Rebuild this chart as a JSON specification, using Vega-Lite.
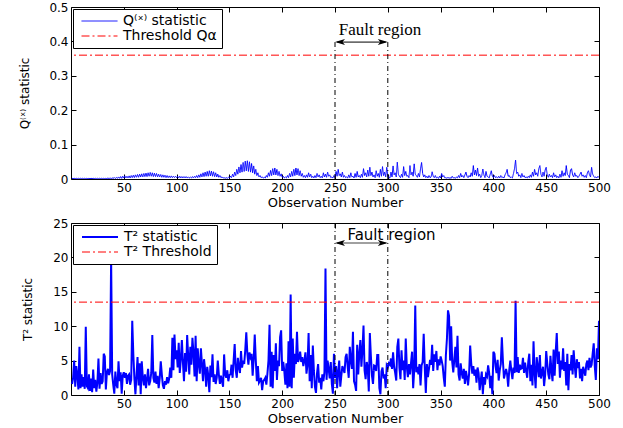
{
"$schema": "https://vega.github.io/schema/vega-lite/v6.json",
"padding": {"left": 17, "top": 0, "right": 5, "bottom": 3},
"bounds": "flush",
"spacing": 44,
"config": {
  "view": {"stroke": "black", "strokeWidth": 1},
  "font": "DejaVu Sans",
  "axis": {"grid": false, "domain": false, "tickColor": "black", "tickSize": -5, "labelPadding": 8, "labelFlush": false, "labelFont": "DejaVu Sans", "labelFontSize": 12, "labelColor": "black", "titleFont": "DejaVu Sans", "titleFontWeight": "normal", "titleColor": "black"},
  "legend": {"orient": "top-left", "offset": 2, "strokeColor": "black", "fillColor": "white", "padding": 5, "symbolType": "stroke", "symbolSize": 1296, "symbolOffset": 3, "clipHeight": 14, "rowPadding": 1, "labelFont": "DejaVu Sans", "labelFontSize": 14, "labelColor": "black", "labelOffset": 5}
},
"datasets": {"d": [
{"n":1,"q":0.002,"t":1.6},{"n":2,"q":0.001,"t":2.5},{"n":3,"q":0.002,"t":5},{"n":4,"q":0.001,"t":1.2},{"n":5,"q":0.002,"t":4.2},{"n":6,"q":0.001,"t":2.8},{"n":7,"q":0.002,"t":0.8},{"n":8,"q":0.001,"t":7},{"n":9,"q":0.002,"t":1},{"n":10,"q":0.001,"t":3},
{"n":11,"q":0.002,"t":1.2},{"n":12,"q":0.001,"t":2.6},{"n":13,"q":0.002,"t":0.9},{"n":14,"q":0.001,"t":9.9},{"n":15,"q":0.002,"t":1.3},{"n":16,"q":0.001,"t":1},{"n":17,"q":0.002,"t":3},{"n":18,"q":0.001,"t":0.6},{"n":19,"q":0.002,"t":2.4},{"n":20,"q":0.001,"t":0.4},
{"n":21,"q":0.002,"t":3.7},{"n":22,"q":0.001,"t":1},{"n":23,"q":0.002,"t":2.2},{"n":24,"q":0.001,"t":0.5},{"n":25,"q":0.002,"t":1.8},{"n":26,"q":0.001,"t":5.3},{"n":27,"q":0.002,"t":0.9},{"n":28,"q":0.001,"t":3.2},{"n":29,"q":0.002,"t":1.6},{"n":30,"q":0.001,"t":2},
{"n":31,"q":0.002,"t":6},{"n":32,"q":0.001,"t":5.6},{"n":33,"q":0.002,"t":0.8},{"n":34,"q":0.001,"t":3.3},{"n":35,"q":0.003,"t":3.8},{"n":36,"q":0.001,"t":2.9},{"n":37,"q":0.003,"t":3.5},{"n":38,"q":0.001,"t":19.8},{"n":39,"q":0.003,"t":3},{"n":40,"q":0.002,"t":1.5},
{"n":41,"q":0.004,"t":0.2},{"n":42,"q":0.001,"t":3.4},{"n":43,"q":0.005,"t":1.5},{"n":44,"q":0.002,"t":1},{"n":45,"q":0.006,"t":4.9},{"n":46,"q":0.002,"t":2},{"n":47,"q":0.007,"t":3.3},{"n":48,"q":0.002,"t":0.2},{"n":49,"q":0.008,"t":2.8},{"n":50,"q":0.003,"t":3.3},
{"n":51,"q":0.009,"t":2.5},{"n":52,"q":0.003,"t":3.2},{"n":53,"q":0.008,"t":1.6},{"n":54,"q":0.003,"t":2.8},{"n":55,"q":0.009,"t":3},{"n":56,"q":0.003,"t":1.5},{"n":57,"q":0.01,"t":2.2},{"n":58,"q":0.004,"t":10.8},{"n":59,"q":0.011,"t":6},{"n":60,"q":0.004,"t":2.5},
{"n":61,"q":0.012,"t":0.1},{"n":62,"q":0.005,"t":2.8},{"n":63,"q":0.013,"t":5.5},{"n":64,"q":0.005,"t":1.4},{"n":65,"q":0.014,"t":4.6},{"n":66,"q":0.006,"t":0.1},{"n":67,"q":0.015,"t":4.9},{"n":68,"q":0.006,"t":2.5},{"n":69,"q":0.016,"t":1.4},{"n":70,"q":0.007,"t":3},
{"n":71,"q":0.017,"t":1},{"n":72,"q":0.007,"t":2.3},{"n":73,"q":0.018,"t":3.8},{"n":74,"q":0.008,"t":1.4},{"n":75,"q":0.019,"t":2},{"n":76,"q":0.008,"t":3.2},{"n":77,"q":0.018,"t":8.7},{"n":78,"q":0.007,"t":2.5},{"n":79,"q":0.017,"t":1.8},{"n":80,"q":0.007,"t":3.4},
{"n":81,"q":0.016,"t":1.6},{"n":82,"q":0.006,"t":2.8},{"n":83,"q":0.014,"t":1},{"n":84,"q":0.006,"t":2.4},{"n":85,"q":0.013,"t":4.9},{"n":86,"q":0.005,"t":3},{"n":87,"q":0.012,"t":1.4},{"n":88,"q":0.005,"t":0.9},{"n":89,"q":0.011,"t":2},{"n":90,"q":0.004,"t":1.5},
{"n":91,"q":0.01,"t":2.6},{"n":92,"q":0.004,"t":1.7},{"n":93,"q":0.009,"t":2.4},{"n":94,"q":0.004,"t":4},{"n":95,"q":0.009,"t":2.5},{"n":96,"q":0.004,"t":8.3},{"n":97,"q":0.008,"t":3.6},{"n":98,"q":0.004,"t":8.8},{"n":99,"q":0.008,"t":5.2},{"n":100,"q":0.004,"t":6.5},
{"n":101,"q":0.008,"t":4},{"n":102,"q":0.003,"t":7.6},{"n":103,"q":0.008,"t":3.2},{"n":104,"q":0.003,"t":5.2},{"n":105,"q":0.007,"t":8},{"n":106,"q":0.003,"t":4.7},{"n":107,"q":0.007,"t":2},{"n":108,"q":0.003,"t":6.1},{"n":109,"q":0.007,"t":3.4},{"n":110,"q":0.003,"t":8.7},
{"n":111,"q":0.006,"t":5.6},{"n":112,"q":0.003,"t":3},{"n":113,"q":0.006,"t":7},{"n":114,"q":0.003,"t":4.4},{"n":115,"q":0.007,"t":8.3},{"n":116,"q":0.003,"t":6.1},{"n":117,"q":0.008,"t":2.7},{"n":118,"q":0.004,"t":8.6},{"n":119,"q":0.01,"t":2},{"n":120,"q":0.004,"t":6.8},
{"n":121,"q":0.012,"t":4.5},{"n":122,"q":0.005,"t":3.1},{"n":123,"q":0.015,"t":6.8},{"n":124,"q":0.006,"t":4.5},{"n":125,"q":0.018,"t":2},{"n":126,"q":0.007,"t":5.2},{"n":127,"q":0.02,"t":3.7},{"n":128,"q":0.008,"t":1.2},{"n":129,"q":0.022,"t":4.1},{"n":130,"q":0.008,"t":2.8},
{"n":131,"q":0.024,"t":0.4},{"n":132,"q":0.009,"t":4.3},{"n":133,"q":0.023,"t":2.6},{"n":134,"q":0.008,"t":5.9},{"n":135,"q":0.021,"t":1.9},{"n":136,"q":0.007,"t":3},{"n":137,"q":0.018,"t":1.6},{"n":138,"q":0.006,"t":2.5},{"n":139,"q":0.014,"t":5},{"n":140,"q":0.005,"t":3},
{"n":141,"q":0.01,"t":1.6},{"n":142,"q":0.004,"t":2.8},{"n":143,"q":0.006,"t":2},{"n":144,"q":0.003,"t":1.2},{"n":145,"q":0.004,"t":5.9},{"n":146,"q":0.002,"t":3},{"n":147,"q":0.004,"t":2.5},{"n":148,"q":0.002,"t":3.6},{"n":149,"q":0.005,"t":2},{"n":150,"q":0.003,"t":2.9},
{"n":151,"q":0.008,"t":3},{"n":152,"q":0.004,"t":4.4},{"n":153,"q":0.014,"t":2.5},{"n":154,"q":0.006,"t":5},{"n":155,"q":0.02,"t":7.4},{"n":156,"q":0.01,"t":3.6},{"n":157,"q":0.028,"t":2.5},{"n":158,"q":0.014,"t":5.4},{"n":159,"q":0.035,"t":4},{"n":160,"q":0.018,"t":3.2},
{"n":161,"q":0.042,"t":6.4},{"n":162,"q":0.02,"t":4},{"n":163,"q":0.048,"t":5},{"n":164,"q":0.022,"t":4.5},{"n":165,"q":0.052,"t":6.5},{"n":166,"q":0.024,"t":9.1},{"n":167,"q":0.053,"t":6},{"n":168,"q":0.022,"t":4.4},{"n":169,"q":0.05,"t":6.2},{"n":170,"q":0.02,"t":5.5},
{"n":171,"q":0.045,"t":6},{"n":172,"q":0.018,"t":2.8},{"n":173,"q":0.038,"t":5.2},{"n":174,"q":0.014,"t":8.8},{"n":175,"q":0.028,"t":5},{"n":176,"q":0.01,"t":2},{"n":177,"q":0.018,"t":4.2},{"n":178,"q":0.006,"t":1.8},{"n":179,"q":0.01,"t":2.1},{"n":180,"q":0.004,"t":2.5},
{"n":181,"q":0.006,"t":0.7},{"n":182,"q":0.003,"t":2},{"n":183,"q":0.005,"t":2.2},{"n":184,"q":0.003,"t":2.5},{"n":185,"q":0.01,"t":1.5},{"n":186,"q":0.005,"t":3.1},{"n":187,"q":0.018,"t":5},{"n":188,"q":0.008,"t":10.2},{"n":189,"q":0.025,"t":1.2},{"n":190,"q":0.01,"t":6.3},
{"n":191,"q":0.03,"t":1},{"n":192,"q":0.012,"t":5.8},{"n":193,"q":0.032,"t":3.5},{"n":194,"q":0.012,"t":7.5},{"n":195,"q":0.028,"t":2.2},{"n":196,"q":0.01,"t":5},{"n":197,"q":0.022,"t":4.2},{"n":198,"q":0.008,"t":8.4},{"n":199,"q":0.015,"t":9.4},{"n":200,"q":0.005,"t":3.5},
{"n":201,"q":0.008,"t":4.8},{"n":202,"q":0.003,"t":3.5},{"n":203,"q":0.006,"t":1.5},{"n":204,"q":0.003,"t":4.6},{"n":205,"q":0.01,"t":1},{"n":206,"q":0.004,"t":7.8},{"n":207,"q":0.016,"t":1.2},{"n":208,"q":0.006,"t":14.6},{"n":209,"q":0.022,"t":1},{"n":210,"q":0.008,"t":8.2},
{"n":211,"q":0.028,"t":2.5},{"n":212,"q":0.01,"t":6},{"n":213,"q":0.032,"t":4.5},{"n":214,"q":0.012,"t":9.2},{"n":215,"q":0.03,"t":4.8},{"n":216,"q":0.01,"t":5.3},{"n":217,"q":0.024,"t":6.3},{"n":218,"q":0.008,"t":4.8},{"n":219,"q":0.016,"t":5.5},{"n":220,"q":0.005,"t":4.2},
{"n":221,"q":0.01,"t":5},{"n":222,"q":0.004,"t":6.2},{"n":223,"q":0.012,"t":3.1},{"n":224,"q":0.005,"t":4.5},{"n":225,"q":0.018,"t":9},{"n":226,"q":0.006,"t":2},{"n":227,"q":0.014,"t":5.8},{"n":228,"q":0.004,"t":1},{"n":229,"q":0.008,"t":7.2},{"n":230,"q":0.003,"t":3.5},
{"n":231,"q":0.01,"t":1.2},{"n":232,"q":0.004,"t":0.3},{"n":233,"q":0.016,"t":3.2},{"n":234,"q":0.006,"t":4.5},{"n":235,"q":0.012,"t":1.8},{"n":236,"q":0.004,"t":2.5},{"n":237,"q":0.008,"t":0.8},{"n":238,"q":0.003,"t":3},{"n":239,"q":0.018,"t":2},{"n":240,"q":0.006,"t":3.3},
{"n":241,"q":0.014,"t":18.4},{"n":242,"q":0.005,"t":2.2},{"n":243,"q":0.02,"t":5},{"n":244,"q":0.008,"t":3.8},{"n":245,"q":0.012,"t":2.4},{"n":246,"q":0.004,"t":4.8},{"n":247,"q":0.006,"t":1.6},{"n":248,"q":0.003,"t":0.2},{"n":249,"q":0.01,"t":6},{"n":250,"q":0.004,"t":2.5},
{"n":251,"q":0.022,"t":4.2},{"n":252,"q":0.008,"t":1},{"n":253,"q":0.028,"t":3.4},{"n":254,"q":0.01,"t":5},{"n":255,"q":0.015,"t":1.2},{"n":256,"q":0.006,"t":2.8},{"n":257,"q":0.02,"t":4.2},{"n":258,"q":0.005,"t":3.7},{"n":259,"q":0.01,"t":3.2},{"n":260,"q":0.004,"t":5.5},
{"n":261,"q":0.006,"t":6},{"n":262,"q":0.003,"t":4.1},{"n":263,"q":0.012,"t":2.5},{"n":264,"q":0.004,"t":7},{"n":265,"q":0.018,"t":5},{"n":266,"q":0.006,"t":3.8},{"n":267,"q":0.008,"t":9.2},{"n":268,"q":0.003,"t":2},{"n":269,"q":0.016,"t":1.5},{"n":270,"q":0.005,"t":0.6},
{"n":271,"q":0.022,"t":7.3},{"n":272,"q":0.006,"t":3},{"n":273,"q":0.01,"t":6},{"n":274,"q":0.004,"t":8},{"n":275,"q":0.014,"t":4.1},{"n":276,"q":0.005,"t":6.6},{"n":277,"q":0.03,"t":10.1},{"n":278,"q":0.01,"t":3.6},{"n":279,"q":0.018,"t":2.3},{"n":280,"q":0.006,"t":4.8},
{"n":281,"q":0.026,"t":4},{"n":282,"q":0.008,"t":0.5},{"n":283,"q":0.034,"t":9},{"n":284,"q":0.01,"t":5.6},{"n":285,"q":0.02,"t":2.8},{"n":286,"q":0.006,"t":1.6},{"n":287,"q":0.012,"t":4.3},{"n":288,"q":0.004,"t":4.2},{"n":289,"q":0.024,"t":3.5},{"n":290,"q":0.008,"t":5.8},
{"n":291,"q":0.016,"t":5.8},{"n":292,"q":0.005,"t":1},{"n":293,"q":0.028,"t":0.1},{"n":294,"q":0.008,"t":3.4},{"n":295,"q":0.036,"t":4},{"n":296,"q":0.01,"t":2.4},{"n":297,"q":0.02,"t":3},{"n":298,"q":0.006,"t":1},{"n":299,"q":0.034,"t":4.3},{"n":300,"q":0.008,"t":4},
{"n":301,"q":0.004,"t":4.6},{"n":302,"q":0.003,"t":4.4},{"n":303,"q":0.02,"t":5.3},{"n":304,"q":0.006,"t":3.8},{"n":305,"q":0.038,"t":6.2},{"n":306,"q":0.012,"t":4.1},{"n":307,"q":0.018,"t":3.2},{"n":308,"q":0.006,"t":2.1},{"n":309,"q":0.049,"t":7},{"n":310,"q":0.014,"t":8.2},
{"n":311,"q":0.008,"t":4},{"n":312,"q":0.004,"t":2.3},{"n":313,"q":0.014,"t":6.5},{"n":314,"q":0.005,"t":3.6},{"n":315,"q":0.036,"t":5},{"n":316,"q":0.01,"t":2.2},{"n":317,"q":0.022,"t":8.2},{"n":318,"q":0.008,"t":4.1},{"n":319,"q":0.01,"t":2.6},{"n":320,"q":0.004,"t":4.5},
{"n":321,"q":0.039,"t":3},{"n":322,"q":0.012,"t":4.7},{"n":323,"q":0.02,"t":6.3},{"n":324,"q":0.008,"t":1},{"n":325,"q":0.044,"t":3.6},{"n":326,"q":0.014,"t":13},{"n":327,"q":0.01,"t":3.3},{"n":328,"q":0.005,"t":4.1},{"n":329,"q":0.016,"t":3},{"n":330,"q":0.006,"t":4.5},
{"n":331,"q":0.03,"t":1.4},{"n":332,"q":0.048,"t":4.3},{"n":333,"q":0.016,"t":4.8},{"n":334,"q":0.006,"t":8.9},{"n":335,"q":0.012,"t":4},{"n":336,"q":0.004,"t":0.3},{"n":337,"q":0.008,"t":4.5},{"n":338,"q":0.003,"t":2.6},{"n":339,"q":0.01,"t":3.8},{"n":340,"q":0.004,"t":5.1},
{"n":341,"q":0.006,"t":4.4},{"n":342,"q":0.021,"t":7.3},{"n":343,"q":0.008,"t":3.5},{"n":344,"q":0.004,"t":5.9},{"n":345,"q":0.01,"t":4.8},{"n":346,"q":0.003,"t":6.4},{"n":347,"q":0.005,"t":3.6},{"n":348,"q":0.002,"t":5.2},{"n":349,"q":0.008,"t":4.3},{"n":350,"q":0.003,"t":5.6},
{"n":351,"q":0.016,"t":5},{"n":352,"q":0.006,"t":4.2},{"n":353,"q":0.01,"t":2.5},{"n":354,"q":0.003,"t":1.2},{"n":355,"q":0.004,"t":5.8},{"n":356,"q":0.002,"t":8.2},{"n":357,"q":0.005,"t":12.3},{"n":358,"q":0.002,"t":11.5},{"n":359,"q":0.004,"t":5},{"n":360,"q":0.002,"t":10},
{"n":361,"q":0.008,"t":4.8},{"n":362,"q":0.003,"t":3.3},{"n":363,"q":0.004,"t":5.2},{"n":364,"q":0.002,"t":7},{"n":365,"q":0.006,"t":4},{"n":366,"q":0.003,"t":8.6},{"n":367,"q":0.01,"t":3},{"n":368,"q":0.004,"t":2.1},{"n":369,"q":0.016,"t":4.6},{"n":370,"q":0.006,"t":3.2},
{"n":371,"q":0.01,"t":2.4},{"n":372,"q":0.004,"t":3.8},{"n":373,"q":0.012,"t":1.6},{"n":374,"q":0.02,"t":3.5},{"n":375,"q":0.008,"t":2.6},{"n":376,"q":0.004,"t":1.4},{"n":377,"q":0.01,"t":3.1},{"n":378,"q":0.006,"t":7.2},{"n":379,"q":0.018,"t":4.6},{"n":380,"q":0.008,"t":3.1},
{"n":381,"q":0.039,"t":4.2},{"n":382,"q":0.012,"t":2.8},{"n":383,"q":0.026,"t":3.7},{"n":384,"q":0.01,"t":1.8},{"n":385,"q":0.032,"t":4},{"n":386,"q":0.008,"t":3.2},{"n":387,"q":0.014,"t":0.7},{"n":388,"q":0.004,"t":2.1},{"n":389,"q":0.01,"t":3.4},{"n":390,"q":0.029,"t":0.1},
{"n":391,"q":0.012,"t":2.6},{"n":392,"q":0.004,"t":1.5},{"n":393,"q":0.022,"t":3},{"n":394,"q":0.008,"t":2.7},{"n":395,"q":0.006,"t":4.3},{"n":396,"q":0.003,"t":3.2},{"n":397,"q":0.014,"t":1},{"n":398,"q":0.024,"t":2.8},{"n":399,"q":0.008,"t":0.1},{"n":400,"q":0.004,"t":6.3},
{"n":401,"q":0.01,"t":6},{"n":402,"q":0.004,"t":4.2},{"n":403,"q":0.006,"t":3.2},{"n":404,"q":0.003,"t":5.1},{"n":405,"q":0.008,"t":2.1},{"n":406,"q":0.003,"t":3.6},{"n":407,"q":0.01,"t":4.5},{"n":408,"q":0.004,"t":8.4},{"n":409,"q":0.006,"t":5},{"n":410,"q":0.003,"t":2.4},
{"n":411,"q":0.012,"t":3.1},{"n":412,"q":0.018,"t":3.8},{"n":413,"q":0.028,"t":3},{"n":414,"q":0.008,"t":1.2},{"n":415,"q":0.01,"t":3.6},{"n":416,"q":0.004,"t":5},{"n":417,"q":0.006,"t":3.5},{"n":418,"q":0.003,"t":2.3},{"n":419,"q":0.016,"t":4},{"n":420,"q":0.03,"t":3.2},
{"n":421,"q":0.055,"t":13.7},{"n":422,"q":0.016,"t":3.3},{"n":423,"q":0.02,"t":5.5},{"n":424,"q":0.008,"t":3.2},{"n":425,"q":0.012,"t":4.4},{"n":426,"q":0.004,"t":3.8},{"n":427,"q":0.016,"t":3.9},{"n":428,"q":0.006,"t":5.4},{"n":429,"q":0.01,"t":3.2},{"n":430,"q":0.004,"t":4.7},
{"n":431,"q":0.006,"t":3.5},{"n":432,"q":0.003,"t":2.5},{"n":433,"q":0.008,"t":4.8},{"n":434,"q":0.004,"t":6},{"n":435,"q":0.012,"t":2},{"n":436,"q":0.005,"t":4.4},{"n":437,"q":0.02,"t":1.4},{"n":438,"q":0.008,"t":7.8},{"n":439,"q":0.028,"t":3.2},{"n":440,"q":0.012,"t":1},
{"n":441,"q":0.018,"t":5.5},{"n":442,"q":0.008,"t":4.1},{"n":443,"q":0.03,"t":2.6},{"n":444,"q":0.039,"t":5.8},{"n":445,"q":0.014,"t":2.4},{"n":446,"q":0.006,"t":3.3},{"n":447,"q":0.02,"t":4.1},{"n":448,"q":0.008,"t":1.3},{"n":449,"q":0.026,"t":2.9},{"n":450,"q":0.034,"t":6.4},
{"n":451,"q":0.012,"t":4.6},{"n":452,"q":0.005,"t":3},{"n":453,"q":0.014,"t":2.3},{"n":454,"q":0.006,"t":5.7},{"n":455,"q":0.01,"t":3.5},{"n":456,"q":0.004,"t":2},{"n":457,"q":0.018,"t":6.6},{"n":458,"q":0.006,"t":2.8},{"n":459,"q":0.012,"t":6.3},{"n":460,"q":0.004,"t":9},
{"n":461,"q":0.008,"t":4.5},{"n":462,"q":0.003,"t":6.3},{"n":463,"q":0.014,"t":2.5},{"n":464,"q":0.005,"t":5},{"n":465,"q":0.024,"t":3.7},{"n":466,"q":0.008,"t":6.8},{"n":467,"q":0.018,"t":3.5},{"n":468,"q":0.01,"t":4.8},{"n":469,"q":0.039,"t":1.4},{"n":470,"q":0.014,"t":6},
{"n":471,"q":0.01,"t":0.7},{"n":472,"q":0.004,"t":4.5},{"n":473,"q":0.026,"t":3.6},{"n":474,"q":0.03,"t":5.8},{"n":475,"q":0.012,"t":3},{"n":476,"q":0.006,"t":6.5},{"n":477,"q":0.018,"t":4.3},{"n":478,"q":0.008,"t":2.5},{"n":479,"q":0.01,"t":5.2},{"n":480,"q":0.004,"t":3.9},
{"n":481,"q":0.008,"t":4.8},{"n":482,"q":0.014,"t":2.4},{"n":483,"q":0.02,"t":3.8},{"n":484,"q":0.008,"t":2},{"n":485,"q":0.012,"t":4.1},{"n":486,"q":0.005,"t":3.5},{"n":487,"q":0.01,"t":2.8},{"n":488,"q":0.004,"t":4.5},{"n":489,"q":0.018,"t":5},{"n":490,"q":0.024,"t":3.6},
{"n":491,"q":0.012,"t":5.4},{"n":492,"q":0.006,"t":4},{"n":493,"q":0.034,"t":4.4},{"n":494,"q":0.014,"t":6},{"n":495,"q":0.008,"t":7.5},{"n":496,"q":0.004,"t":4.2},{"n":497,"q":0.006,"t":2.2},{"n":498,"q":0.003,"t":6.8},{"n":499,"q":0.008,"t":5.2},{"n":500,"q":0.004,"t":10.8}
],
"fault": [{"f": 250}, {"f": 300}],
"one": [{}]
},
"resolve": {"scale": {"color": "independent", "strokeDash": "independent", "strokeWidth": "independent"}},
"vconcat": [
{
  "width": 528, "height": 172,
  "resolve": {"axis": {"x": "independent", "y": "independent"}},
  "layer": [
    {
      "data": {"name": "d"},
      "mark": {"type": "line", "clip": true},
      "encoding": {
        "x": {"field": "n", "type": "quantitative", "scale": {"domain": [0, 500], "nice": false, "zero": false},
              "axis": {"orient": "bottom", "values": [50,100,150,200,250,300,350,400,450,500], "title": "Observation Number", "titleFontSize": 13, "titlePadding": 3}},
        "y": {"field": "q", "type": "quantitative", "scale": {"domain": [0, 0.5], "nice": false},
              "axis": {"orient": "left", "values": [0,0.1,0.2,0.3,0.4,0.5], "format": ".1~f", "title": "Q⁽ˣ⁾ statistic", "titleFontSize": 12, "titleX": -40}},
        "color": {"datum": "Q⁽ˣ⁾ statistic", "type": "nominal", "scale": {"domain": ["Q⁽ˣ⁾ statistic", "Threshold Qα"], "range": ["#0000ff", "#ff0000"]}, "legend": {"title": null}},
        "strokeDash": {"datum": "Q⁽ˣ⁾ statistic", "type": "nominal", "scale": {"domain": ["Q⁽ˣ⁾ statistic", "Threshold Qα"], "range": [[1, 0], [8, 3, 2, 3]]}, "legend": {"title": null}},
        "strokeWidth": {"datum": "Q⁽ˣ⁾ statistic", "type": "nominal", "scale": {"domain": ["Q⁽ˣ⁾ statistic", "Threshold Qα"], "range": [1, 1]}, "legend": {"title": null}}
      }
    },
    {
      "data": {"name": "one"},
      "mark": {"type": "rule"},
      "encoding": {
        "y": {"datum": 0.36, "type": "quantitative", "scale": {"domain": [0, 0.5], "nice": false}, "axis": {"orient": "right", "labels": false, "labelPadding": 0, "title": null, "values": [0,0.1,0.2,0.3,0.4,0.5]}},
        "color": {"datum": "Threshold Qα", "type": "nominal"},
        "strokeDash": {"datum": "Threshold Qα", "type": "nominal"},
        "strokeWidth": {"datum": "Threshold Qα", "type": "nominal"}
      }
    },
    {
      "data": {"name": "fault"},
      "mark": {"type": "rule", "color": "black", "strokeWidth": 1, "strokeDash": [5, 3, 1, 3]},
      "encoding": {
        "x": {"field": "f", "type": "quantitative", "scale": {"domain": [0, 500], "nice": false, "zero": false}, "axis": {"orient": "top", "labels": false, "labelPadding": 0, "title": null, "values": [50,100,150,200,250,300,350,400,450,500]}},
        "y": {"datum": 0, "type": "quantitative", "axis": null},
        "y2": {"datum": 0.398}
      }
    },
    {
      "data": {"name": "one"},
      "mark": {"type": "rule", "color": "black", "strokeWidth": 1},
      "encoding": {
        "x": {"datum": 252, "type": "quantitative", "axis": null},
        "x2": {"datum": 298},
        "y": {"datum": 0.398, "type": "quantitative", "axis": null}
      }
    },
    {
      "data": {"name": "one"},
      "mark": {"type": "point", "shape": "M0,0L2,-0.6L1.5,0L2,0.6Z", "filled": true, "color": "black", "size": 100, "opacity": 1},
      "encoding": {
        "x": {"datum": 250, "type": "quantitative", "axis": null},
        "y": {"datum": 0.398, "type": "quantitative", "axis": null}
      }
    },
    {
      "data": {"name": "one"},
      "mark": {"type": "point", "shape": "M0,0L-2,-0.6L-1.5,0L-2,0.6Z", "filled": true, "color": "black", "size": 100, "opacity": 1},
      "encoding": {
        "x": {"datum": 300, "type": "quantitative", "axis": null},
        "y": {"datum": 0.398, "type": "quantitative", "axis": null}
      }
    },
    {
      "data": {"name": "one"},
      "mark": {"type": "text", "text": "Fault region", "font": "Liberation Serif", "fontSize": 17, "color": "black", "align": "center", "baseline": "middle"},
      "encoding": {
        "x": {"datum": 292.6, "type": "quantitative", "axis": null},
        "y": {"datum": 0.432, "type": "quantitative", "axis": null}
      }
    }
  ]
},
{
  "width": 528, "height": 172,
  "resolve": {"axis": {"x": "independent", "y": "independent"}},
  "layer": [
    {
      "data": {"name": "d"},
      "mark": {"type": "line", "clip": true},
      "encoding": {
        "x": {"field": "n", "type": "quantitative", "scale": {"domain": [0, 500], "nice": false, "zero": false},
              "axis": {"orient": "bottom", "values": [50,100,150,200,250,300,350,400,450,500], "title": "Observation Number", "titleFontSize": 13, "titlePadding": 3}},
        "y": {"field": "t", "type": "quantitative", "scale": {"domain": [0, 25], "nice": false},
              "axis": {"orient": "left", "values": [0,5,10,15,20,25], "title": "T² statistic", "titleFontSize": 12, "titleX": -37}},
        "color": {"datum": "T² statistic", "type": "nominal", "scale": {"domain": ["T² statistic", "T² Threshold"], "range": ["#0000ff", "#ff0000"]}, "legend": {"title": null}},
        "strokeDash": {"datum": "T² statistic", "type": "nominal", "scale": {"domain": ["T² statistic", "T² Threshold"], "range": [[1, 0], [8, 3, 2, 3]]}, "legend": {"title": null}},
        "strokeWidth": {"datum": "T² statistic", "type": "nominal", "scale": {"domain": ["T² statistic", "T² Threshold"], "range": [2, 1]}, "legend": {"title": null}}
      }
    },
    {
      "data": {"name": "one"},
      "mark": {"type": "rule"},
      "encoding": {
        "y": {"datum": 13.5, "type": "quantitative", "scale": {"domain": [0, 25], "nice": false}, "axis": {"orient": "right", "labels": false, "labelPadding": 0, "title": null, "values": [0,5,10,15,20,25]}},
        "color": {"datum": "T² Threshold", "type": "nominal"},
        "strokeDash": {"datum": "T² Threshold", "type": "nominal"},
        "strokeWidth": {"datum": "T² Threshold", "type": "nominal"}
      }
    },
    {
      "data": {"name": "fault"},
      "mark": {"type": "rule", "color": "black", "strokeWidth": 1, "strokeDash": [5, 3, 1, 3]},
      "encoding": {
        "x": {"field": "f", "type": "quantitative", "scale": {"domain": [0, 500], "nice": false, "zero": false}, "axis": {"orient": "top", "labels": false, "labelPadding": 0, "title": null, "values": [50,100,150,200,250,300,350,400,450,500]}}
      }
    },
    {
      "data": {"name": "one"},
      "mark": {"type": "rule", "color": "#808080", "strokeWidth": 1.5},
      "encoding": {
        "x": {"datum": 252, "type": "quantitative", "axis": null},
        "x2": {"datum": 298},
        "y": {"datum": 22.1, "type": "quantitative", "axis": null}
      }
    },
    {
      "data": {"name": "one"},
      "mark": {"type": "point", "shape": "M0,0L2,-0.6L1.5,0L2,0.6Z", "filled": true, "color": "black", "size": 100, "opacity": 1},
      "encoding": {
        "x": {"datum": 250, "type": "quantitative", "axis": null},
        "y": {"datum": 22.1, "type": "quantitative", "axis": null}
      }
    },
    {
      "data": {"name": "one"},
      "mark": {"type": "point", "shape": "M0,0L-2,-0.6L-1.5,0L-2,0.6Z", "filled": true, "color": "black", "size": 100, "opacity": 1},
      "encoding": {
        "x": {"datum": 300, "type": "quantitative", "axis": null},
        "y": {"datum": 22.1, "type": "quantitative", "axis": null}
      }
    },
    {
      "data": {"name": "one"},
      "mark": {"type": "text", "text": "Fault region", "font": "DejaVu Sans", "fontSize": 15, "color": "black", "align": "center", "baseline": "middle"},
      "encoding": {
        "x": {"datum": 303.5, "type": "quantitative", "axis": null},
        "y": {"datum": 23.3, "type": "quantitative", "axis": null}
      }
    }
  ]
}
]
}
